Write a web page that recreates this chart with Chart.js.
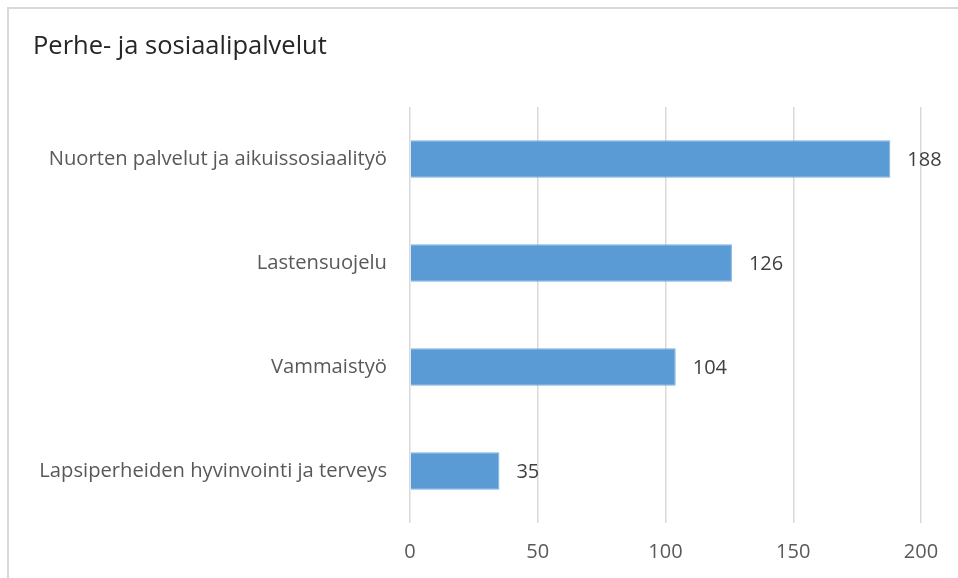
<!DOCTYPE html>
<html>
<head>
<meta charset="utf-8">
<script src="https://cdn.jsdelivr.net/npm/chart.js@4"></script>
<style>
  html, body { margin: 0; padding: 0; background: #fff; }
  #wrap { position: relative; width: 958px; height: 578px; overflow: hidden; }
  #frame { position: absolute; left: 7px; top: 7px; width: 960px; height: 580px;
           border-left: 2px solid #d9d9d9; border-top: 2px solid #d9d9d9; }
  canvas { position: absolute; left: 0; top: 0; }
</style>
</head>
<body>
<div id="wrap">
  <div id="frame"></div>
  <canvas id="chart" width="958" height="578"></canvas>
</div>
<script>
// --- data ---
const categories = [
  'Nuorten palvelut ja aikuissosiaalityö',
  'Lastensuojelu',
  'Vammaistyö',
  'Lapsiperheiden hyvinvointi ja terveys'
];
const values = [188, 126, 104, 35];
const titleText = 'Perhe- ja sosiaalipalvelut';

const FONT = '"Open Sans", Lato, sans-serif';

// value labels at the end of bars
const valueLabels = {
  id: 'valueLabels',
  afterDatasetsDraw(chart) {
    const ctx = chart.ctx;
    const meta = chart.getDatasetMeta(0);
    ctx.save();
    ctx.font = '20px ' + FONT;
    ctx.fillStyle = '#404040';
    ctx.textAlign = 'left';
    ctx.textBaseline = 'middle';
    meta.data.forEach((bar, i) => {
      ctx.fillText(values[i], bar.x + 17, bar.y + 1);
    });
    ctx.restore();
  }
};

new Chart(document.getElementById('chart'), {
  type: 'bar',
  data: {
    labels: categories,
    datasets: [{
      data: values,
      backgroundColor: '#5b9bd5',
      borderColor: '#7fb0de',
      borderWidth: 1,
      barPercentage: 0.36,
      categoryPercentage: 1
    }]
  },
  options: {
    indexAxis: 'y',
    responsive: false,
    animation: false,
    layout: { padding: { left: 33, right: 37, top: 0, bottom: 0 } },
    plugins: {
      legend: { display: false },
      tooltip: { enabled: false },
      title: {
        display: true,
        text: titleText,
        align: 'start',
        color: '#262626',
        font: { family: FONT, size: 25.5, weight: 'normal' },
        padding: { top: 31, bottom: 45.5 }
      }
    },
    scales: {
      x: {
        min: 0,
        max: 200,
        ticks: {
          stepSize: 50,
          color: '#595959',
          font: { family: FONT, size: 20 },
          padding: 17
        },
        grid: { color: '#d9d9d9', lineWidth: 1.5, drawTicks: false },
        border: { display: false },
        afterFit(scale) { scale.height = 55; }
      },
      y: {
        ticks: {
          color: '#595959',
          font: { family: FONT, size: 20.2 },
          padding: 23
        },
        grid: { display: false, drawTicks: false },
        border: { display: false },
        afterFit(scale) { scale.width = 377; }
      }
    }
  },
  plugins: [valueLabels]
});
</script>
</body>
</html>
